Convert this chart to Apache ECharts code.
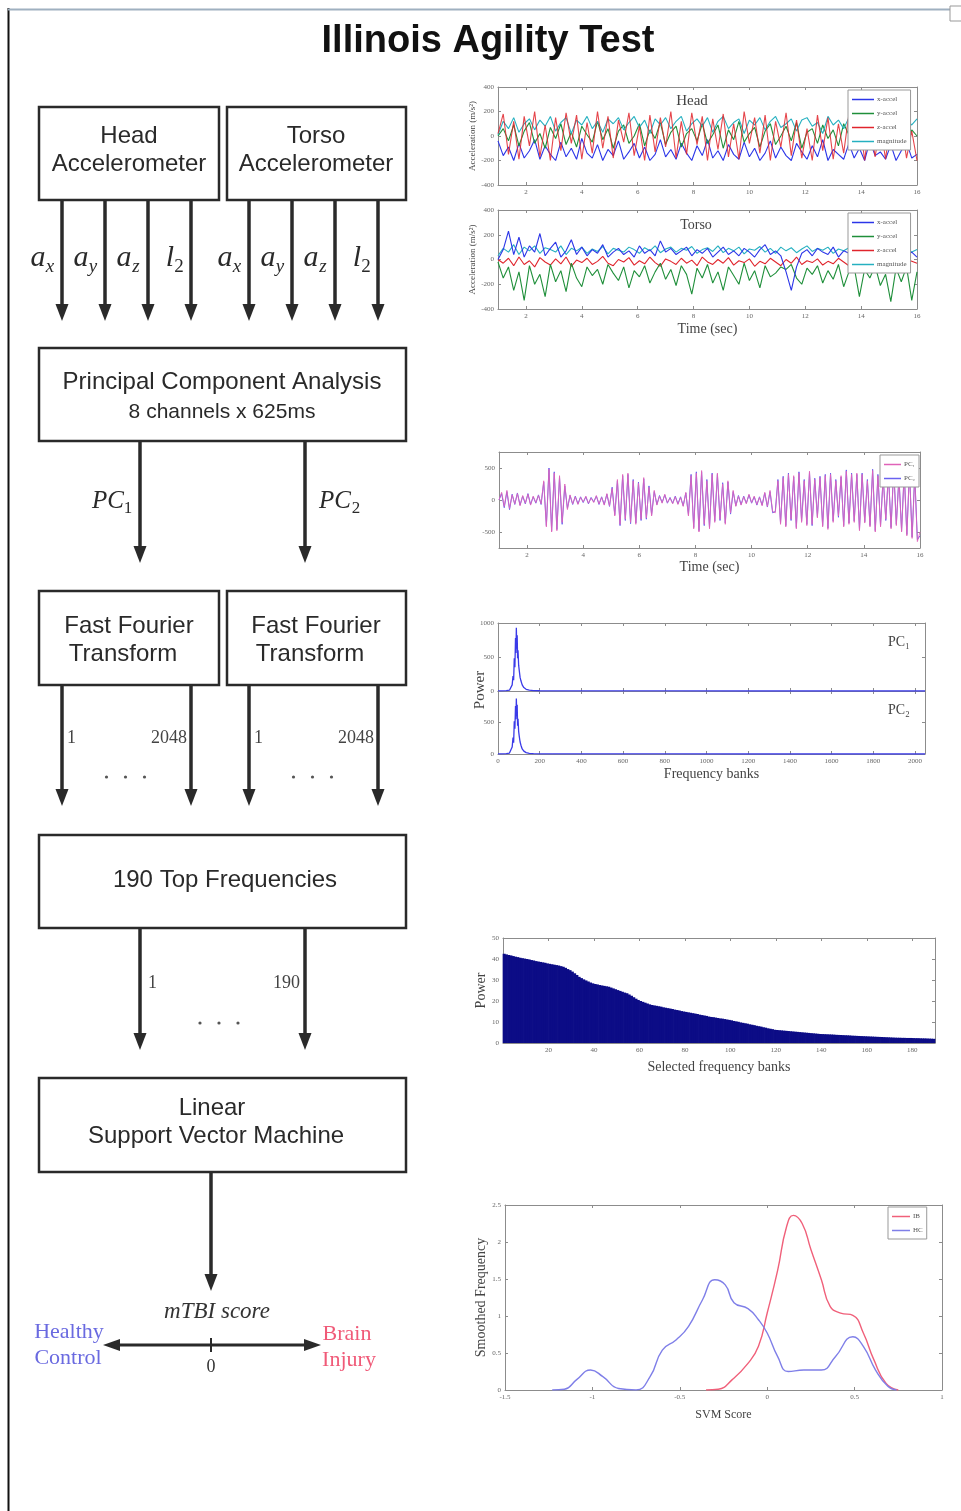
<!DOCTYPE html>
<html>
<head>
<meta charset="utf-8">
<title>Illinois Agility Test</title>
<script src="https://cdn.jsdelivr.net/npm/echarts@6.0.0/dist/echarts.min.js"></script>
<style>
  html, body { margin: 0; padding: 0; background: #fff; }
  #main { width: 961px; height: 1511px; }
</style>
</head>
<body>
<div id="main"></div>
<script>
var serif = '"Liberation Serif", "Times New Roman", serif';
var sans = '"Liberation Sans", Arial, sans-serif';

// ---- data ----
var accelNames = ['x-accel', 'y-accel', 'z-accel', 'magnitude'];
var accelColors = ['#2b35e8', '#1f8f3a', '#e0242c', '#25b0c0'];
var timeTicks = [2, 4, 6, 8, 10, 12, 14, 16];

var headX = [-40,-160,-90,-200,-60,-180,-120,-30,-190,-80,-150,-200,-50,-170,-100,-190,-20,-140,-180,-70,-200,-110,-160,-40,-190,-130,-60,-180,-90,-200,-150,-30,-170,-110,-190,-60,-140,-200,-80,-160,-30,-180,-120,-200,-70,-150,-190,-50,-170,-100,-200,-140,-40,-180,-90,-160,-200,-60,-130,-190,-80,-170,-30,-200,-110,-150,-190,-60,-180,-100,-200,-40,-160,-130,-190,-70,-200,-120,-50,-180,-150];
var headY = [0,60,-40,90,-80,40,110,-60,20,-100,70,-20,100,-70,30,-90,80,10,-50,120,-30,60,-100,40,90,-60,0,100,-80,50,-20,110,-70,30,80,-90,20,60,-40,100,-60,10,90,-100,50,-30,120,-50,20,70,-90,40,100,-70,0,80,-40,110,-100,30,60,-60,90,-20,50,-80,100,10,-50,80,-90,40,110,-30,60,-70,20,90,-100,50,0];
var headZ = [20,180,-150,120,-190,160,-80,200,-170,90,-200,150,-120,190,-60,170,-190,110,-140,200,-100,160,-180,130,-50,190,-160,80,-200,170,-130,150,-90,200,-180,120,-150,190,-70,160,-200,140,-110,180,-170,100,-190,200,-60,150,-140,170,-200,120,-90,190,-160,130,-180,60,-200,170,-120,150,-190,100,-140,180,-80,160,-200,130,-170,90,-190,150,-60,120,-180,40,-200];
var headMag = [10,120,60,150,30,100,140,50,130,80,160,40,110,150,20,130,90,160,60,120,30,140,100,150,50,110,160,70,130,20,140,90,150,60,120,160,40,100,140,80,150,30,120,160,60,110,140,20,130,90,150,50,120,160,70,100,140,40,130,150,80,110,20,160,90,130,60,150,100,40,140,120,70,160,30,110,150,60,130,90,140];

var torsoX = [0,80,230,40,180,20,110,60,210,30,90,140,20,70,160,40,100,30,80,50,120,20,60,90,40,70,20,110,50,80,30,150,60,90,40,70,100,30,80,50,90,20,60,100,40,70,30,90,60,20,80,120,40,70,30,-100,-250,-60,50,80,30,90,60,40,100,20,70,50,90,30,80,60,40,70,20,60,90,50,30,60,20];
var torsoY = [-20,-150,-60,-250,-100,-330,-50,-200,-120,-300,-40,-180,-90,-260,-30,-150,-220,-60,-130,-80,-200,-40,-110,-170,-60,-230,-90,-140,-50,-190,-100,-30,-160,-80,-210,-50,-120,-280,-70,-150,-40,-190,-100,-250,-60,-130,-200,-30,-170,-90,-230,-50,-140,-110,-60,-80,-40,-150,-200,-70,-120,-50,-190,-90,-160,-40,-220,-100,-60,-300,-80,-150,-50,-210,-120,-340,-70,-180,-60,-330,-100];
var torsoZ = [0,-30,10,-50,20,-40,-10,-60,15,-20,-45,5,-35,20,-55,-5,-25,10,-40,-15,25,-30,-50,0,-20,15,-45,-10,-35,20,-25,-55,5,-15,-40,10,-30,-5,-50,20,-20,-40,0,-30,15,-45,-10,-25,5,-55,-15,-35,10,-20,-50,0,-30,20,-40,-10,-25,5,-45,-15,-35,10,-20,-50,0,-30,15,-40,-10,-25,5,-45,-20,-35,0,-15,-30];
var torsoMag = [30,90,60,120,40,100,70,110,50,95,80,60,110,40,90,70,100,50,85,65,105,45,90,75,60,100,80,50,95,70,110,55,85,100,60,90,75,105,50,80,95,65,110,55,90,70,100,45,85,75,105,60,90,50,100,70,95,55,85,110,65,90,75,100,50,85,70,95,60,105,80,55,90,70,100,50,85,65,95,60,80];

var pcNames = ['PC\u2081', 'PC\u2082'];
var pc1 = [0,120,-100,150,-130,80,-60,100,-90,70,-50,90,-80,60,-40,70,-60,
  300,-420,480,-500,420,-480,380,-350,250,-150,
  80,-60,50,-70,40,-30,60,-50,30,-40,70,-60,40,-80,100,-90,
  180,-250,320,-380,400,-300,420,-350,300,-380,260,-300,350,-280,200,-250,150,
  -80,60,-50,90,-40,30,-60,50,-70,40,-100,120,
  -250,380,-450,420,-500,460,-380,300,-450,400,-350,420,-300,250,-380,300,-200,150,-100,
  60,-80,50,-60,90,-40,60,-70,40,-90,120,-100,
  150,-180,-200,300,-380,350,-420,400,-300,380,-450,420,-350,300,-400,450,-380,320,-280,350,-420,380,-460,400,-350,300,-250,380,-420,450,-380,400,-350,420,-480,400,-360,300,-420,460,-500,380,-420,350,-300,400,-450,480,-400,350,-500,420,-560,450,-600,380,-650,-500];
var pc2 = [0,100,-120,130,-150,90,-70,110,-80,60,-60,100,-70,50,-50,80,-70,
  280,-400,500,-480,440,-460,350,-380,220,-130,
  70,-70,60,-60,50,-40,50,-60,40,-30,60,-70,50,-70,90,-100,
  200,-230,300,-400,380,-320,400,-370,320,-360,280,-320,330,-300,220,-230,130,
  -70,70,-40,80,-50,40,-50,60,-60,50,-90,110,
  -230,400,-430,440,-480,440,-400,320,-430,420,-330,400,-320,270,-360,280,-220,130,-90,
  70,-70,60,-50,80,-50,50,-80,50,-80,110,-110,
  130,-200,-180,320,-360,370,-400,420,-320,360,-430,440,-330,320,-380,430,-400,340,-260,370,-400,400,-440,420,-330,320,-270,360,-400,470,-360,420,-330,400,-460,420,-340,320,-400,480,-480,400,-400,370,-320,420,-430,500,-380,370,-480,440,-540,470,-580,400,-620,-560];

var fftTicks = [0, 200, 400, 600, 800, 1000, 1200, 1400, 1600, 1800, 2000];
var fftPc1 = [[0,2],[20,3],[40,5],[55,12],[62,30],[68,90],[72,220],[75,160],[78,480],[81,350],[84,780],[86,560],[88,930],[90,620],[92,820],[94,480],[96,600],[99,380],[102,300],[106,200],[110,150],[116,90],[124,50],[135,25],[150,12],[170,6],[200,4],[260,2],[400,1],[800,1],[1200,0],[2048,0]];
var fftPc2 = [[0,2],[20,3],[40,6],[55,15],[62,35],[68,110],[72,260],[75,180],[78,520],[81,400],[84,760],[86,550],[88,880],[90,600],[92,780],[94,450],[96,560],[99,360],[102,280],[106,190],[110,140],[116,80],[124,45],[135,22],[150,10],[170,6],[200,3],[260,2],[400,1],[800,1],[1200,0],[2048,0]];

var topFreqTicks = [20, 40, 60, 80, 100, 120, 140, 160, 180];
var topFreqPower = [
  42.5,42.2,41.9,41.7,41.4,41.1,40.9,40.6,40.4,40.2,
  40.0,39.8,39.5,39.3,39.0,38.8,38.6,38.4,38.2,37.9,
  37.7,37.5,37.3,37.1,36.9,36.6,36.3,
  35.8,35.2,34.7,34.0,33.2,32.4,31.5,
  30.9,30.3,29.8,29.3,28.8,28.4,
  28.1,27.9,27.6,27.4,27.2,27.0,26.8,
  26.4,26.0,25.6,25.2,24.8,24.4,24.0,23.7,
  23.1,22.5,21.8,21.1,20.5,
  20.0,19.6,19.2,18.8,18.4,18.1,
  17.9,17.7,17.5,17.3,17.0,16.8,16.6,16.4,16.2,15.9,15.7,15.5,15.2,15.0,
  14.8,14.6,14.4,14.2,14.0,13.8,13.5,13.3,13.1,12.9,12.6,
  12.4,12.3,12.1,11.9,11.7,11.6,11.4,11.2,11.0,
  10.8,10.5,10.3,10.1,9.8,9.6,9.4,9.2,8.9,8.7,
  8.5,8.2,8.0,7.8,7.5,7.3,7.0,6.8,6.6,6.3,
  6.2,6.1,6.0,5.9,5.8,5.7,5.6,5.5,5.4,5.3,5.2,5.1,5.0,4.9,4.8,4.7,4.6,4.5,4.4,4.3,
  4.25,4.2,4.15,4.1,4.05,4.0,3.9,3.85,3.8,3.75,3.7,3.65,3.6,3.5,3.45,3.4,3.35,3.3,3.25,3.2,
  3.15,3.1,3.05,3.0,2.95,2.9,2.85,2.8,2.75,2.7,2.65,2.6,2.55,2.5,2.5,2.45,2.45,2.4,2.4,2.4,
  2.35,2.3,2.3,2.25,2.2,2.2,2.15,2.1,2.05,2.0];

var svmNames = ['IB', 'HC'];
var svmIB = [[-0.35,0],[-0.28,0.01],[-0.2,0.14],[-0.11,0.36],[-0.05,0.59],[0,1.04],[0.06,1.62],[0.11,2.2],[0.15,2.36],[0.2,2.25],[0.25,1.9],[0.31,1.49],[0.36,1.13],[0.42,1.04],[0.49,1.01],[0.55,0.77],[0.61,0.41],[0.68,0.09],[0.75,0]];
var svmHC = [[-1.23,0],[-1.16,0.01],[-1.09,0.14],[-1.01,0.27],[-0.94,0.18],[-0.85,0.02],[-0.75,0],[-0.67,0.18],[-0.6,0.54],[-0.52,0.68],[-0.45,0.86],[-0.37,1.22],[-0.3,1.49],[-0.24,1.42],[-0.19,1.18],[-0.11,1.1],[-0.05,0.95],[0,0.77],[0.06,0.45],[0.12,0.25],[0.21,0.27],[0.31,0.27],[0.39,0.45],[0.49,0.72],[0.55,0.59],[0.62,0.27],[0.69,0.05],[0.74,0]];

// samples are evenly spread from 1 s to 16 s
function timed(vals) {
  var dt = (16 - 1) / (vals.length - 1);
  return vals.map(function (v, i) { return [1 + i * dt, v]; });
}

// ---- axes / grids ----
function plainNumber(v) { return String(v); }

function mkAxis(g, pos, o, showLabel) {
  var a = {
    gridIndex: g, type: 'value', position: pos,
    min: o.min, max: o.max, interval: o.interval,
    axisLine: { show: true, onZero: false, lineStyle: { color: '#8c8c8c', width: 1 } },
    axisTick: { show: true, inside: true, length: 3, lineStyle: { color: '#8c8c8c' } },
    axisLabel: { show: showLabel && !o.noLabels, fontSize: 7, color: '#666', fontFamily: serif, margin: 4, formatter: plainNumber },
    splitLine: { show: false }
  };
  if (o.ticks) {
    a.axisTick.customValues = o.ticks;
    a.axisLabel.customValues = o.ticks;
  }
  if (showLabel && o.name) {
    a.name = o.name;
    a.nameLocation = 'middle';
    a.nameGap = o.nameGap;
    a.nameTextStyle = { fontFamily: serif, fontSize: o.nameSize, color: '#444' };
  }
  return a;
}

var grids = [], xAxes = [], yAxes = [], xMirror = [], yMirror = [];
function panel(rect, xo, yo) {
  var g = grids.length;
  grids.push(rect);
  xAxes.push(mkAxis(g, 'bottom', xo, true));
  yAxes.push(mkAxis(g, 'left', yo, true));
  xMirror.push(mkAxis(g, 'top', xo, false));
  yMirror.push(mkAxis(g, 'right', yo, false));
  return g;
}

var accelY = { min: -400, max: 400, interval: 200, name: 'Acceleration (m/s\u00b2)', nameGap: 17, nameSize: 9 };
var gHead = panel({ left: 498, top: 87, width: 419, height: 98 },
  { min: 1, max: 16, ticks: timeTicks }, accelY);
var gTorso = panel({ left: 498, top: 210, width: 419, height: 99 },
  { min: 1, max: 16, ticks: timeTicks, name: 'Time (sec)', nameGap: 13, nameSize: 14 }, accelY);
var gPc = panel({ left: 499, top: 452, width: 421, height: 96 },
  { min: 1, max: 16, ticks: timeTicks, name: 'Time (sec)', nameGap: 11, nameSize: 14 },
  { min: -750, max: 750, ticks: [-500, 0, 500] });
var gFft1 = panel({ left: 498, top: 623, width: 427, height: 68 },
  { min: 0, max: 2048, ticks: fftTicks, noLabels: true },
  { min: 0, max: 1000, ticks: [0, 500, 1000] });
var gFft2 = panel({ left: 498, top: 691, width: 427, height: 63 },
  { min: 0, max: 2048, ticks: fftTicks, name: 'Frequency banks', nameGap: 13, nameSize: 14 },
  { min: 0, max: 1000, ticks: [0, 500] });
var gTop = panel({ left: 503, top: 938, width: 432, height: 105 },
  { min: 0, max: 190, ticks: topFreqTicks, name: 'Selected frequency banks', nameGap: 17, nameSize: 14 },
  { min: 0, max: 50, interval: 10, name: 'Power', nameGap: 13, nameSize: 14 });
var gSvm = panel({ left: 505, top: 1205, width: 437, height: 185 },
  { min: -1.5, max: 1, interval: 0.5, name: 'SVM Score', nameGap: 19, nameSize: 12 },
  { min: 0, max: 2.5, interval: 0.5, name: 'Smoothed Frequency', nameGap: 16, nameSize: 14 });

// ---- series ----
var series = [];
function line(name, g, data, color, width, extra) {
  var s = {
    name: name, type: 'line', xAxisIndex: g, yAxisIndex: g, data: data,
    symbol: 'none', showSymbol: false,
    lineStyle: { color: color, width: width || 1 }, itemStyle: { color: color }
  };
  series.push(Object.assign(s, extra || {}));
}

// head: blue, green, cyan, then red on top
line(accelNames[0], gHead, timed(headX), accelColors[0], 1.1);
line(accelNames[1], gHead, timed(headY), accelColors[1], 1.1);
line(accelNames[3], gHead, timed(headMag), accelColors[3], 1.1);
line(accelNames[2], gHead, timed(headZ), accelColors[2], 1.1, { lineStyle: { color: accelColors[2], width: 1.1, opacity: 0.85 } });
// torso
line(accelNames[2], gTorso, timed(torsoZ), accelColors[2], 1.1);
line(accelNames[3], gTorso, timed(torsoMag), accelColors[3], 1.1);
line(accelNames[1], gTorso, timed(torsoY), accelColors[1], 1.1);
line(accelNames[0], gTorso, timed(torsoX), accelColors[0], 1.1);
// principal components
line(pcNames[1], gPc, timed(pc2), '#6a62f0', 1);
line(pcNames[0], gPc, timed(pc1), '#e063b8', 1, { lineStyle: { color: '#e063b8', width: 1, opacity: 0.85 } });
// fft
line('fft1', gFft1, fftPc1, '#3a3ae8', 1.3);
line('fft2', gFft2, fftPc2, '#3a3ae8', 1.3);
// top frequencies
series.push({
  type: 'bar', xAxisIndex: gTop, yAxisIndex: gTop, barWidth: 3,
  data: topFreqPower.map(function (v, i) { return [i + 0.5, v]; }),
  itemStyle: { color: '#0c0c86' }
});
// svm score densities
line(svmNames[0], gSvm, svmIB, '#f0607a', 1.4, { smooth: 0.5 });
line(svmNames[1], gSvm, svmHC, '#7f7fe8', 1.4, { smooth: 0.5 });

function legendAt(names, left, top, itemW) {
  return {
    data: names, left: left, top: top, orient: 'vertical',
    icon: 'rect', itemWidth: itemW, itemHeight: 1.5, itemGap: 7, padding: [6, 4, 5, 4],
    borderColor: '#999', borderWidth: 1, borderRadius: 0, backgroundColor: '#fff',
    selectedMode: false,
    textStyle: { fontSize: 7, fontFamily: serif, color: '#555', padding: [0, 0, 0, -2] }
  };
}

// ---- flow chart (diagram) ----
var ink = '#2a2a2a';
var graphics = [];
function text(x, y, str, font, color, align, extra) {
  var el = { type: 'text', x: x, y: y, style: { text: str, font: font, fill: color || ink, align: align || 'center', verticalAlign: 'middle' } };
  graphics.push(Object.assign(el, extra || {}));
}
function box(x, y, w, h) {
  graphics.push({ type: 'rect', shape: { x: x, y: y, width: w, height: h }, style: { fill: '#fff', stroke: ink, lineWidth: 2.5 } });
}
function arrowDown(x, y1, y2) {
  graphics.push({ type: 'line', shape: { x1: x, y1: y1, x2: x, y2: y2 - 12 }, style: { stroke: ink, lineWidth: 3.5 } });
  graphics.push({ type: 'polygon', shape: { points: [[x - 6.5, y2 - 17], [x + 6.5, y2 - 17], [x, y2]] }, style: { fill: ink } });
}
function dots(cx, y) {
  [-19, 0, 19].forEach(function (d) {
    graphics.push({ type: 'circle', shape: { cx: cx + d, cy: y, r: 1.6 }, style: { fill: '#555' } });
  });
}
var boxFont = '24px ' + sans;
var mathFont = 'italic 30px ' + serif;
var subFont = 'italic 19px ' + serif;
var numFont = '18px ' + serif;

// frame
graphics.push({ type: 'line', shape: { x1: 8.5, y1: 8, x2: 8.5, y2: 1511 }, style: { stroke: '#111', lineWidth: 2 } });
graphics.push({ type: 'line', shape: { x1: 8, y1: 9.5, x2: 950, y2: 9.5 }, style: { stroke: '#9fb0c0', lineWidth: 2 } });
graphics.push({ type: 'rect', shape: { x: 950, y: 6, width: 14, height: 15 }, style: { fill: '#fff', stroke: '#999', lineWidth: 1 } });

text(488, 42, 'Illinois Agility Test', 'bold 38px ' + sans, '#111');

// accelerometers
box(39, 107, 180, 93);
box(227, 107, 179, 93);
text(129, 136, 'Head', boxFont);
text(129, 164, 'Accelerometer', boxFont);
text(316, 136, 'Torso', boxFont);
text(316, 164, 'Accelerometer', boxFont);
var chanMain = ['a', 'a', 'a', 'l'];
var chanSub = ['x', 'y', 'z', '2'];
[[62, 105, 148, 191], [249, 292, 335, 378]].forEach(function (xs) {
  xs.forEach(function (x, i) {
    arrowDown(x, 200, 321);
    var isL = chanMain[i] === 'l';
    text(x - (isL ? 21 : 24), 258, chanMain[i], mathFont);
    text(x - 12, 267, chanSub[i], isL ? '19px ' + serif : subFont);
  });
});

// PCA
box(39, 348, 367, 93);
text(222, 382, 'Principal Component Analysis', boxFont);
text(222, 412, '8 channels x 625ms', '21px ' + sans);
arrowDown(140, 441, 563);
arrowDown(305, 441, 563);
text(108, 501, 'PC', 'italic 25px ' + serif);
text(128, 509, '1', '17px ' + serif);
text(335, 501, 'PC', 'italic 25px ' + serif);
text(356, 509, '2', '17px ' + serif);

// FFT
box(39, 591, 180, 94);
box(227, 591, 179, 94);
text(129, 626, 'Fast Fourier', boxFont);
text(123, 654, 'Transform', boxFont);
text(316, 626, 'Fast Fourier', boxFont);
text(310, 654, 'Transform', boxFont);
[[62, 191], [249, 378]].forEach(function (xs) {
  arrowDown(xs[0], 685, 806);
  arrowDown(xs[1], 685, 806);
  text(xs[0] + 5, 738, '1', numFont, '#444', 'left');
  text(xs[1] - 4, 738, '2048', numFont, '#444', 'right');
  dots((xs[0] + xs[1]) / 2 - 1, 777);
});

// top frequencies
box(39, 835, 367, 93);
text(225, 880, '190 Top Frequencies', boxFont);
arrowDown(140, 928, 1050);
arrowDown(305, 928, 1050);
text(148, 983, '1', numFont, '#444', 'left');
text(300, 983, '190', numFont, '#444', 'right');
dots(219, 1023);

// SVM
box(39, 1078, 367, 94);
text(212, 1108, 'Linear', boxFont);
text(216, 1136, 'Support Vector Machine', boxFont);
arrowDown(211, 1172, 1291);

// mTBI score axis
text(217, 1312, 'mTBI score', 'italic 23px ' + serif, '#333');
graphics.push({ type: 'line', shape: { x1: 112, y1: 1345, x2: 312, y2: 1345 }, style: { stroke: ink, lineWidth: 3 } });
graphics.push({ type: 'polygon', shape: { points: [[103, 1345], [120, 1339], [120, 1351]] }, style: { fill: ink } });
graphics.push({ type: 'polygon', shape: { points: [[321, 1345], [304, 1339], [304, 1351]] }, style: { fill: ink } });
graphics.push({ type: 'line', shape: { x1: 211, y1: 1338, x2: 211, y2: 1352 }, style: { stroke: ink, lineWidth: 2 } });
text(211, 1367, '0', numFont, '#333');
text(69, 1332, 'Healthy', '22px ' + serif, '#6a6ae0');
text(68, 1358, 'Control', '22px ' + serif, '#6a6ae0');
text(347, 1334, 'Brain', '22px ' + serif, '#f05a78');
text(349, 1360, 'Injury', '22px ' + serif, '#f05a78');

// texts inside the small plots
text(692, 101, 'Head', '15px ' + serif, '#444');
text(696, 225, 'Torso', '14px ' + serif, '#444');
text(899, 642, 'PC\u2081', '14px ' + serif, '#444');
text(899, 710, 'PC\u2082', '14px ' + serif, '#444');
text(480, 690, 'Power', '15px ' + serif, '#444', 'center', { rotation: Math.PI / 2 });

var chart = echarts.init(document.getElementById('main'));
chart.setOption({
  animation: false,
  backgroundColor: '#fff',
  grid: grids,
  xAxis: xAxes.concat(xMirror),
  yAxis: yAxes.concat(yMirror),
  legend: [
    legendAt(accelNames, 848, 90, 22),
    legendAt(accelNames, 848, 213, 22),
    legendAt(pcNames, 880, 455, 17),
    legendAt(svmNames, 888, 1207, 18)
  ],
  series: series,
  graphic: { elements: graphics }
});
</script>
</body>
</html>
